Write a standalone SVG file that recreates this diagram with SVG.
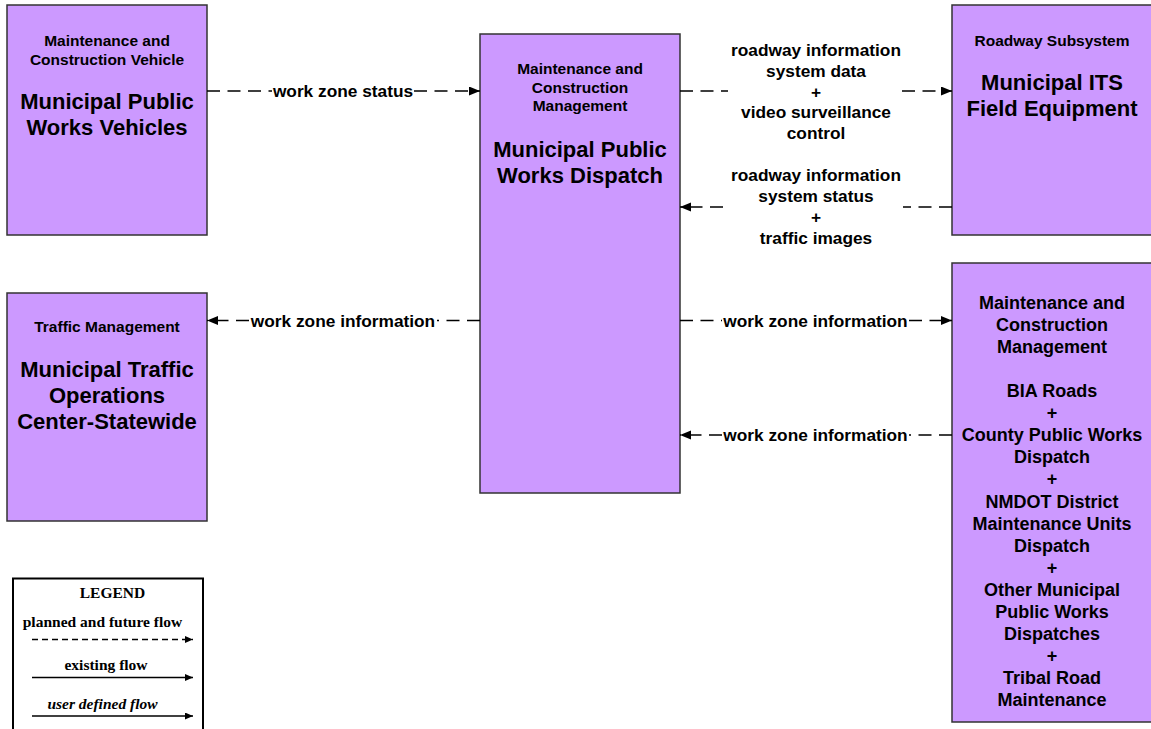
<svg xmlns="http://www.w3.org/2000/svg" width="1151" height="729" viewBox="0 0 1151 729">
<defs>
<marker id="ah" markerUnits="userSpaceOnUse" markerWidth="12" markerHeight="10" refX="11" refY="4.5" orient="auto"><path d="M0,0 L11,4.5 L0,9 z" fill="#000"/></marker>
<marker id="ahs" markerUnits="userSpaceOnUse" markerWidth="9" markerHeight="8" refX="8" refY="3.5" orient="auto"><path d="M0,0 L8,3.5 L0,7 z" fill="#000"/></marker>
<style>
.node rect{fill:#CC99FF;stroke:#333;stroke-width:1.5}
text{font-family:"Liberation Sans",Arial,sans-serif;font-weight:bold;fill:#000;text-anchor:middle}
.sm{font-size:15.5px}
.tt{font-size:22px}
.el{font-size:18px}
.lbl{font-size:17.3px}
.flow{fill:none;stroke:#000;stroke-width:1.5;stroke-dasharray:13 7.5}
.leg{font-family:"Liberation Serif","Times New Roman",serif;font-size:15.5px}
</style>
</defs>
<rect x="0" y="0" width="1151" height="729" fill="#fff"/>

<g id="node-vehicles" class="node">
<rect x="7" y="5" width="200" height="230"/>
<text class="sm" x="107" y="46">Maintenance and</text>
<text class="sm" x="107" y="64.5">Construction Vehicle</text>
<text class="tt" x="107" y="109">Municipal Public</text>
<text class="tt" x="107" y="135">Works Vehicles</text>
</g>

<g id="node-dispatch" class="node">
<rect x="480" y="34" width="200" height="459"/>
<text class="sm" x="580" y="74">Maintenance and</text>
<text class="sm" x="580" y="92.5">Construction</text>
<text class="sm" x="580" y="111">Management</text>
<text class="tt" x="580" y="157">Municipal Public</text>
<text class="tt" x="580" y="183">Works Dispatch</text>
</g>

<g id="node-its" class="node">
<rect x="952" y="5" width="200" height="230"/>
<text class="sm" x="1052" y="46">Roadway Subsystem</text>
<text class="tt" x="1052" y="90">Municipal ITS</text>
<text class="tt" x="1052" y="116">Field Equipment</text>
</g>

<g id="node-traffic" class="node">
<rect x="7" y="293" width="200" height="228"/>
<text class="sm" x="107" y="332">Traffic Management</text>
<text class="tt" x="107" y="377">Municipal Traffic</text>
<text class="tt" x="107" y="403">Operations</text>
<text class="tt" x="107" y="429">Center-Statewide</text>
</g>

<g id="node-mcm" class="node">
<rect x="952" y="263" width="200" height="459"/>
<text class="el" x="1052" y="309">Maintenance and</text>
<text class="el" x="1052" y="331">Construction</text>
<text class="el" x="1052" y="353">Management</text>
<text class="el" x="1052" y="397">BIA Roads</text>
<text class="el" x="1052" y="419">+</text>
<text class="el" x="1052" y="441">County Public Works</text>
<text class="el" x="1052" y="463">Dispatch</text>
<text class="el" x="1052" y="485">+</text>
<text class="el" x="1052" y="507.5">NMDOT District</text>
<text class="el" x="1052" y="529.5">Maintenance Units</text>
<text class="el" x="1052" y="551.5">Dispatch</text>
<text class="el" x="1052" y="573.5">+</text>
<text class="el" x="1052" y="596">Other Municipal</text>
<text class="el" x="1052" y="618">Public Works</text>
<text class="el" x="1052" y="640">Dispatches</text>
<text class="el" x="1052" y="662">+</text>
<text class="el" x="1052" y="684">Tribal Road</text>
<text class="el" x="1052" y="706">Maintenance</text>
</g>

<g id="connectors">
<path class="flow" d="M207,91 H272"/>
<path class="flow" d="M414,91 H480" marker-end="url(#ah)"/>
<text class="lbl" x="343" y="97">work zone status</text>

<path class="flow" d="M680,91 H728"/>
<path class="flow" d="M902,91 H952" marker-end="url(#ah)"/>
<text class="lbl" x="816" y="55.5">roadway information</text>
<text class="lbl" x="816" y="76.5">system data</text>
<text class="lbl" x="816" y="97.5">+</text>
<text class="lbl" x="816" y="118">video surveillance</text>
<text class="lbl" x="816" y="139">control</text>

<path class="flow" d="M952,207 H903"/>
<path class="flow" d="M723,207 H680" marker-end="url(#ah)"/>
<text class="lbl" x="816" y="181">roadway information</text>
<text class="lbl" x="816" y="202">system status</text>
<text class="lbl" x="816" y="223">+</text>
<text class="lbl" x="816" y="244">traffic images</text>

<path class="flow" d="M480,320.5 H437"/>
<path class="flow" d="M249,320.5 H207" marker-end="url(#ah)"/>
<text class="lbl" x="343" y="326.5">work zone information</text>

<path class="flow" d="M680,320.5 H722"/>
<path class="flow" d="M909,320.5 H952" marker-end="url(#ah)"/>
<text class="lbl" x="815.5" y="326.5">work zone information</text>

<path class="flow" d="M952,435 H909"/>
<path class="flow" d="M722,435 H680" marker-end="url(#ah)"/>
<text class="lbl" x="815.5" y="441">work zone information</text>
</g>

<g id="legend">
<rect x="13" y="578.5" width="190" height="160" fill="#fff" stroke="#000" stroke-width="2"/>
<text class="leg" x="112.5" y="598">LEGEND</text>
<text class="leg" x="102.5" y="627">planned and future flow</text>
<path d="M32,639.5 H193" stroke="#000" stroke-width="1.5" stroke-dasharray="6 4" fill="none" marker-end="url(#ahs)"/>
<text class="leg" x="106" y="670">existing flow</text>
<path d="M32,677.5 H193" stroke="#000" stroke-width="1.5" fill="none" marker-end="url(#ahs)"/>
<text class="leg" x="102.5" y="709" font-style="italic">user defined flow</text>
<path d="M32,716 H193" stroke="#000" stroke-width="1.5" fill="none" marker-end="url(#ahs)"/>
</g>
</svg>
